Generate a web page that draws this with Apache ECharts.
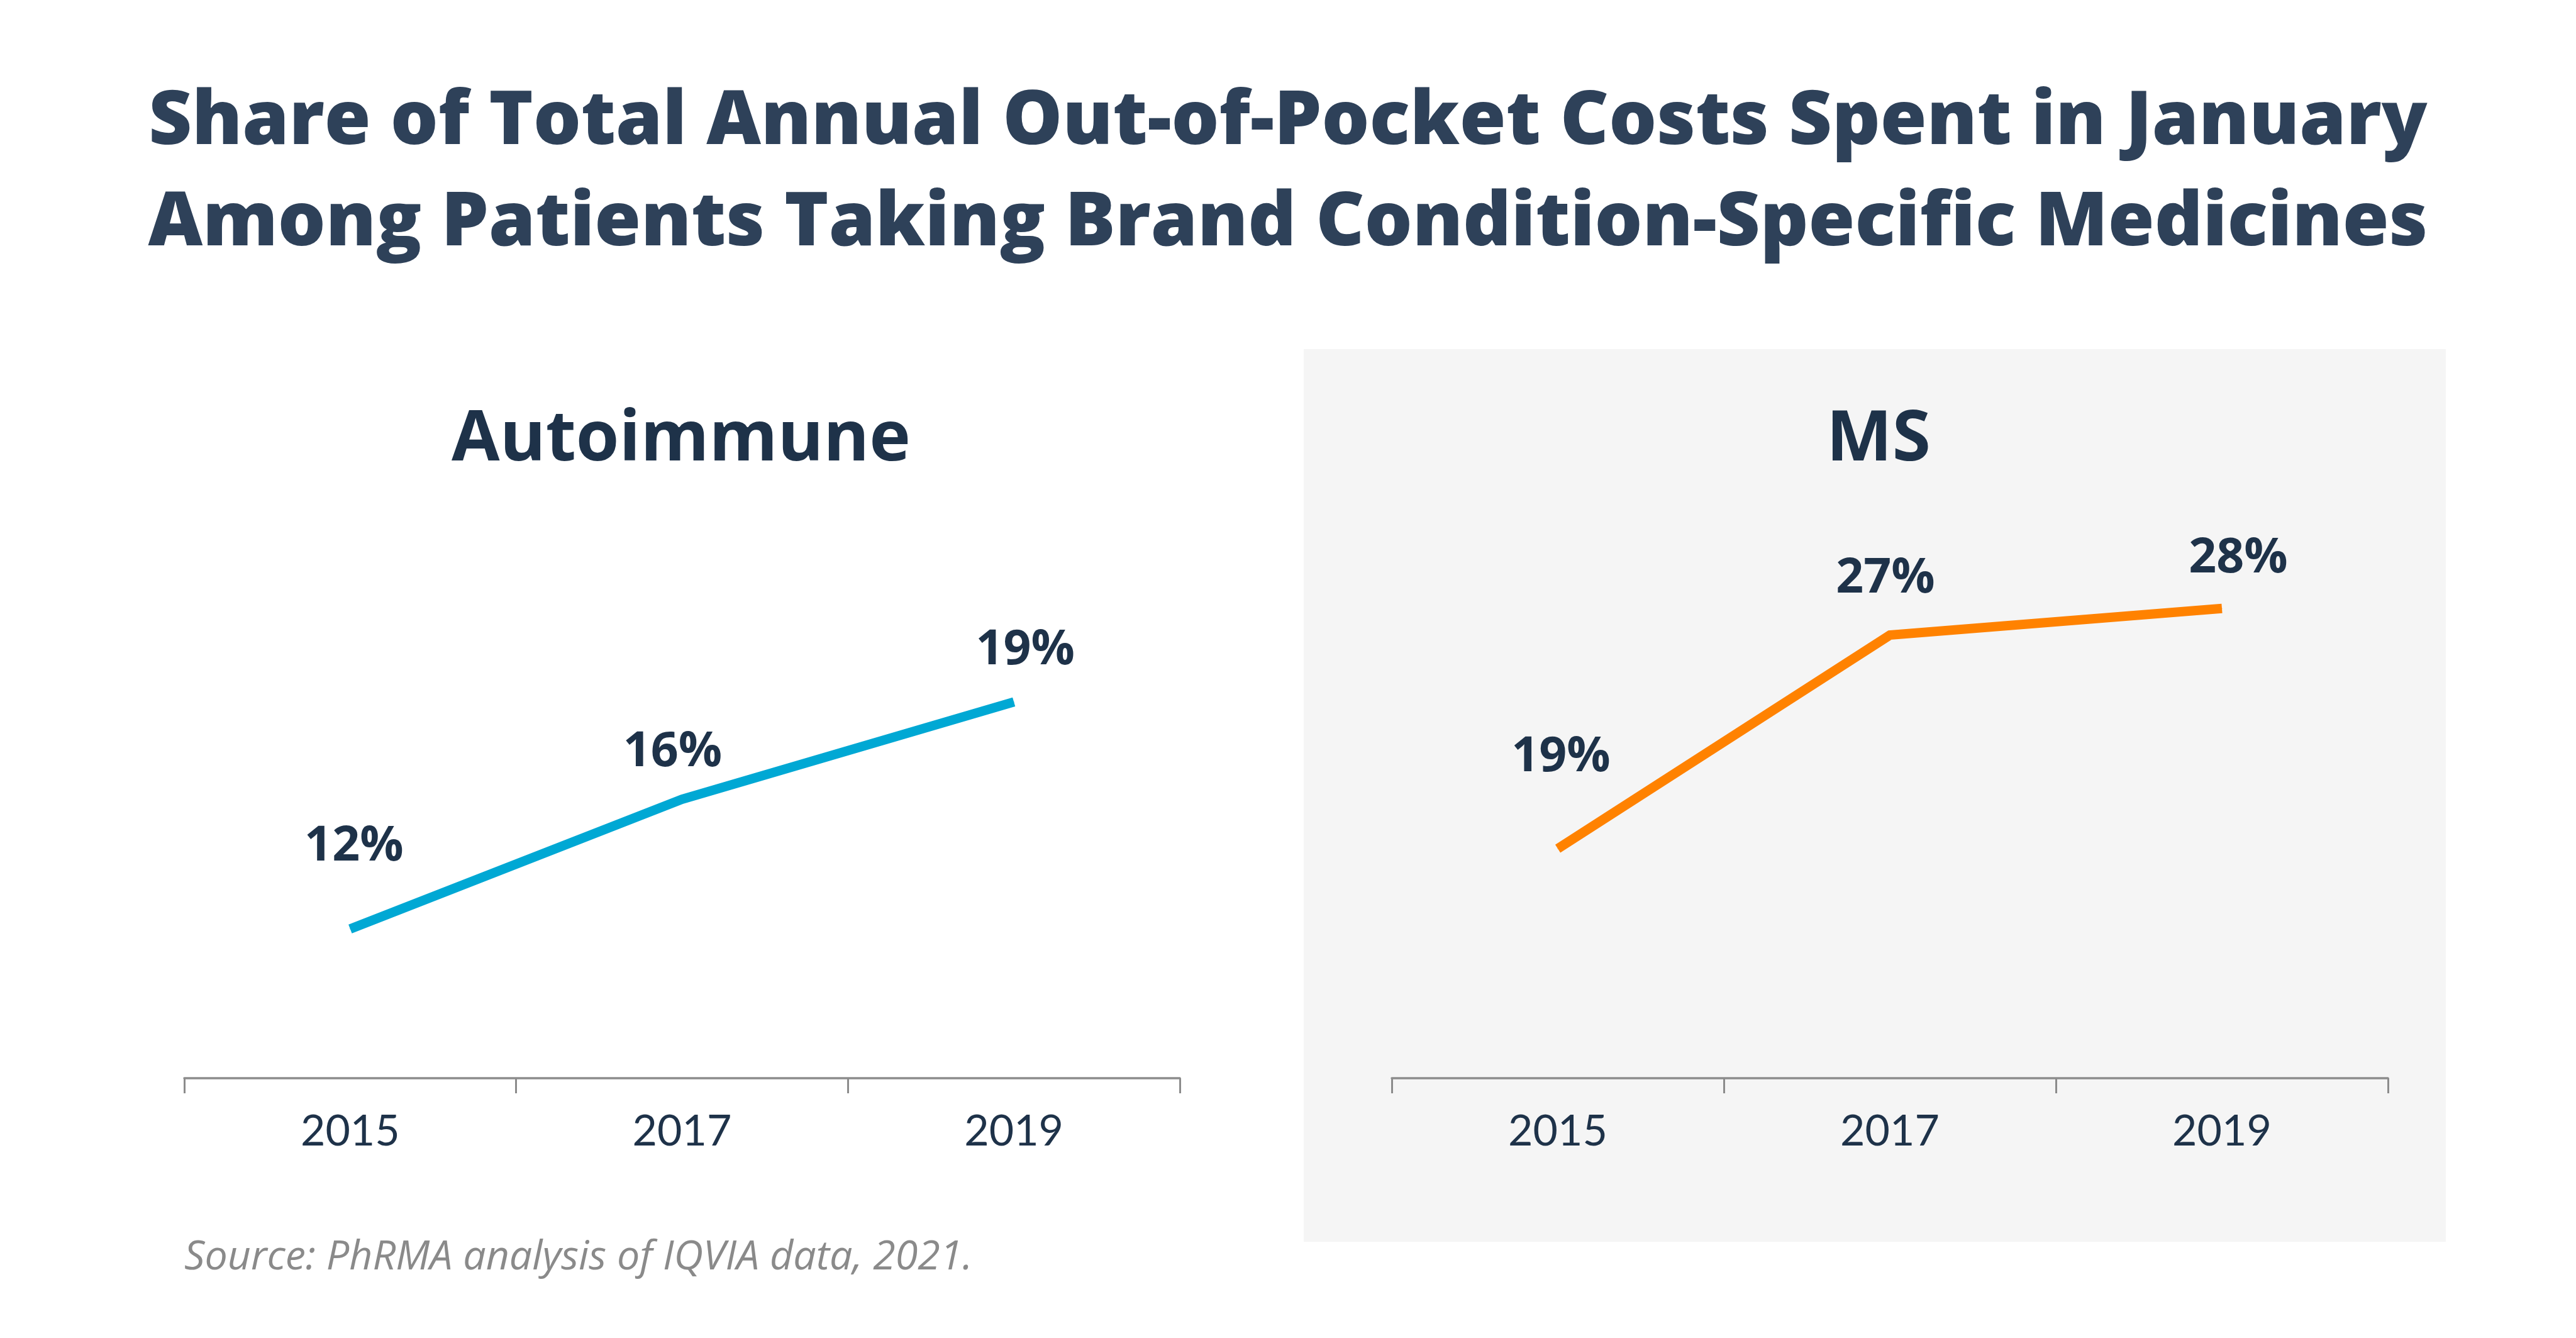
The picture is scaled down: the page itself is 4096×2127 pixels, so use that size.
<!DOCTYPE html>
<html>
<head>
<meta charset="utf-8">
<script src="https://cdn.jsdelivr.net/npm/echarts@6/dist/echarts.min.js"></script>
<style>
html,body{margin:0;padding:0;background:#fff;}
#chart{width:4096px;height:2127px;}
</style>
</head>
<body>
<div id="chart"></div>
<script>
// ---- data ----
const years = ['2015', '2017', '2019'];
const autoimmune = [12, 16, 19];
const ms = [19, 27, 28];
const panelNames = ['Autoimmune', 'MS'];
const titleText = 'Share of Total Annual Out-of-Pocket Costs Spent in January\nAmong Patients Taking Brand Condition-Specific Medicines';
const sourceText = 'Source: PhRMA analysis of IQVIA data, 2021.';

// ---- layout / style ----
const FONT = 'Lato, "Noto Sans", sans-serif';
const FONT_W = '"Open Sans", Lato, sans-serif';
const NAVY = '#1e3249';
const TITLE_C = '#2e4159';
const AXIS_C = '#8c8c8c';
const labelLiftL = [131, 75, 82];
const labelDxL = [6, -15, 18];
const labelLiftR = [145, 90, 79];
const labelDxR = [5, -7, 26];

function mkData(vals, lift, dx) {
  return vals.map((v, i) => ({ value: v, label: { offset: [dx[i], -lift[i]] } }));
}

function xAxisCfg(idx) {
  return {
    type: 'category', gridIndex: idx, data: years, boundaryGap: true,
    axisLine: { show: true, lineStyle: { color: AXIS_C, width: 3.5 } },
    axisTick: { show: true, length: 24, interval: 0, lineStyle: { color: AXIS_C, width: 3 } },
    axisLabel: { margin: 51, fontSize: 68, color: NAVY, fontFamily: FONT, interval: 0 },
    splitLine: { show: false }
  };
}

function seriesCfg(idx, vals, color, lift, dx, name) {
  return {
    type: 'line', name: name, xAxisIndex: idx, yAxisIndex: idx,
    data: mkData(vals, lift, dx),
    symbol: 'circle', symbolSize: 1, showSymbol: true,
    lineStyle: { color: color, width: 15, cap: 'butt', join: 'miter' },
    itemStyle: { color: color },
    label: {
      show: true, position: 'inside', formatter: '{c}%',
      fontSize: 77, fontWeight: 'bold', color: NAVY, fontFamily: FONT_W
    },
    emphasis: { disabled: true },
    animation: false
  };
}

const chart = echarts.init(document.getElementById('chart'), null, { renderer: 'canvas' });
chart.setOption({
  backgroundColor: '#ffffff',
  animation: false,
  title: [{
    text: titleText,
    left: 'center', top: 114, padding: 0,
    textStyle: { fontSize: 119.5, fontWeight: 800, color: TITLE_C, fontFamily: FONT_W, lineHeight: 161 }
  }],
  graphic: [
    { type: 'rect', z: -100, shape: { x: 2073, y: 555, width: 1816, height: 1419 }, style: { fill: '#f5f5f5' } },
    { type: 'text', x: 1083, y: 700, style: { text: panelNames[0], textAlign: 'center', textVerticalAlign: 'middle', fontSize: 111, fontWeight: 'bold', fontFamily: FONT_W, fill: NAVY } },
    { type: 'text', x: 2987, y: 700, style: { text: panelNames[1], textAlign: 'center', textVerticalAlign: 'middle', fontSize: 111, fontWeight: 'bold', fontFamily: FONT_W, fill: NAVY } },
    { type: 'text', x: 293, y: 2000, style: { text: sourceText, textAlign: 'left', textVerticalAlign: 'middle', fontSize: 64.5, fontStyle: 'italic', fontFamily: FONT_W, fill: '#8a8a8a' } }
  ],
  grid: [
    { left: 293, top: 755, width: 1583, height: 959 },
    { left: 2213, top: 755, width: 1584, height: 959 }
  ],
  xAxis: [xAxisCfg(0), xAxisCfg(1)],
  yAxis: [
    { type: 'value', gridIndex: 0, min: 7.4, max: 26.0, show: false, splitLine: { show: false } },
    { type: 'value', gridIndex: 1, min: 10.4, max: 33.0, show: false, splitLine: { show: false } }
  ],
  series: [
    seriesCfg(0, autoimmune, '#00a8d4', labelLiftL, labelDxL, panelNames[0]),
    seriesCfg(1, ms, '#ff8200', labelLiftR, labelDxR, panelNames[1])
  ]
});
</script>
</body>
</html>
